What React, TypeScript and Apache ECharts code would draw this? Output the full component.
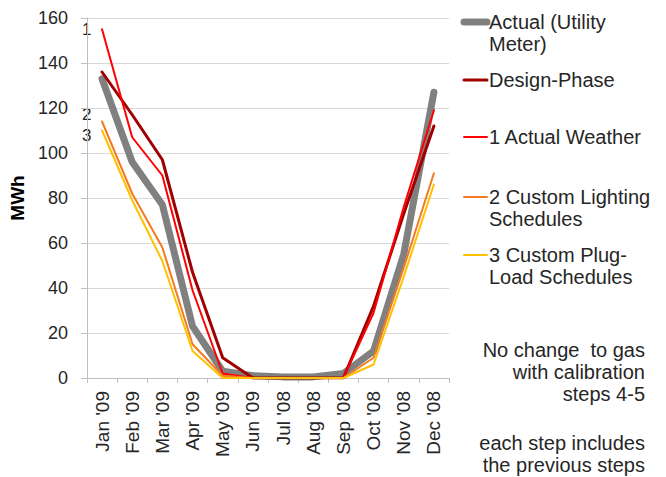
import React, { useEffect, useRef } from "react";
import * as echarts from "echarts";

const months = ["Jan '09", "Feb '09", "Mar '09", "Apr '09", "May '09", "Jun '09", "Jul '08", "Aug '08", "Sep '08", "Oct '08", "Nov '08", "Dec '08"];
const actualMeter = [133, 96, 77, 23, 3, 1, 0.5, 0.5, 2, 12, 55, 127];
const designPhase = [136, 117, 97, 47, 9, 0, 0, 0, 0, 32, 73, 112];
const actualWeather = [155, 107, 90, 39, 2, 0, 0, 0, 0, 29, 76, 119];
const customLighting = [114, 82, 58, 15, 1, 0, 0, 0, 0, 9, 49, 91];
const customPlugLoad = [110, 79, 52, 12, 0, 0, 0, 0, 0, 6, 45, 86];
const yTicks = { min: 0, max: 160, interval: 20 };

const seriesDefs = [
  { name: "Actual (Utility\nMeter)", data: actualMeter, color: "#808080", width: 7 },
  { name: "Design-Phase", data: designPhase, color: "#a00000", width: 3 },
  { name: "1 Actual Weather", data: actualWeather, color: "#ff0000", width: 2 },
  { name: "2 Custom Lighting\nSchedules", data: customLighting, color: "#f47a20", width: 2 },
  { name: "3 Custom Plug-\nLoad Schedules", data: customPlugLoad, color: "#ffc000", width: 2 },
];
const legendY = [22, 80, 137, 197, 255];

const FONT = "'Liberation Sans', Arial, sans-serif";
const TXT = "#262626";

export default function App() {
  const ref = useRef<HTMLDivElement>(null);
  useEffect(() => {
    if (!ref.current) return;
    const chart = echarts.init(ref.current, undefined, { renderer: "svg" });
    const graphics: any[] = [];
    seriesDefs.forEach((s, i) => {
      const y = legendY[i];
      graphics.push({
        type: "line",
        shape: { x1: 464, y1: y, x2: 487, y2: y },
        style: { stroke: s.color, lineWidth: s.width, lineCap: "round" },
      });
      graphics.push({
        type: "text",
        x: 489,
        y: y - 11,
        style: { text: s.name, fontSize: 20, fontFamily: FONT, fill: TXT, lineHeight: 22, verticalAlign: "top" },
      });
    });
    graphics.push(
      { type: "text", x: 82, y: 21, style: { text: "1", fontSize: 17, fontFamily: FONT, fill: TXT } },
      { type: "text", x: 82, y: 106, style: { text: "2", fontSize: 17, fontFamily: FONT, fill: TXT } },
      { type: "text", x: 82, y: 127, style: { text: "3", fontSize: 17, fontFamily: FONT, fill: TXT } },
      {
        type: "text", x: 645, y: 339,
        style: { text: "No change  to gas\nwith calibration\nsteps 4-5", fontSize: 20, fontFamily: FONT, fill: TXT, align: "right", lineHeight: 22 },
      },
      {
        type: "text", x: 645, y: 432,
        style: { text: "each step includes\nthe previous steps", fontSize: 20, fontFamily: FONT, fill: TXT, align: "right", lineHeight: 22 },
      }
    );
    chart.setOption({
      animation: false,
      backgroundColor: "#ffffff",
      textStyle: { fontFamily: FONT },
      grid: { left: 78, right: 217, top: 18, bottom: 99, containLabel: false },
      xAxis: {
        type: "category",
        data: months,
        boundaryGap: true,
        axisLine: { lineStyle: { color: "#bfbfbf" } },
        axisTick: { show: true, alignWithLabel: false, length: 5, lineStyle: { color: "#bfbfbf" } },
        axisLabel: { rotate: 90, fontSize: 19, color: TXT, margin: 13, fontFamily: FONT, interval: 0 },
      },
      yAxis: {
        type: "value",
        min: yTicks.min,
        max: yTicks.max,
        interval: yTicks.interval,
        name: "MWh",
        nameLocation: "middle",
        nameGap: 48,
        nameRotate: 90,
        nameTextStyle: { fontSize: 19, fontWeight: "bold", color: "#000", fontFamily: FONT },
        axisLine: { show: true, lineStyle: { color: "#bfbfbf" } },
        axisTick: { show: true, length: 6, lineStyle: { color: "#bfbfbf" } },
        splitLine: { lineStyle: { color: "#d9d9d9" } },
        axisLabel: { fontSize: 18, color: TXT, margin: 19, fontFamily: FONT },
      },
      series: seriesDefs.map((s) => ({
        name: s.name,
        type: "line",
        data: s.data,
        symbol: "none",
        lineStyle: { color: s.color, width: s.width, join: "round", cap: "round" },
        itemStyle: { color: s.color },
      })),
      graphic: graphics,
    });
    return () => chart.dispose();
  }, []);
  return <div ref={ref} style={{ width: 666, height: 477, position: "absolute", left: 0, top: 0 }} />;
}
